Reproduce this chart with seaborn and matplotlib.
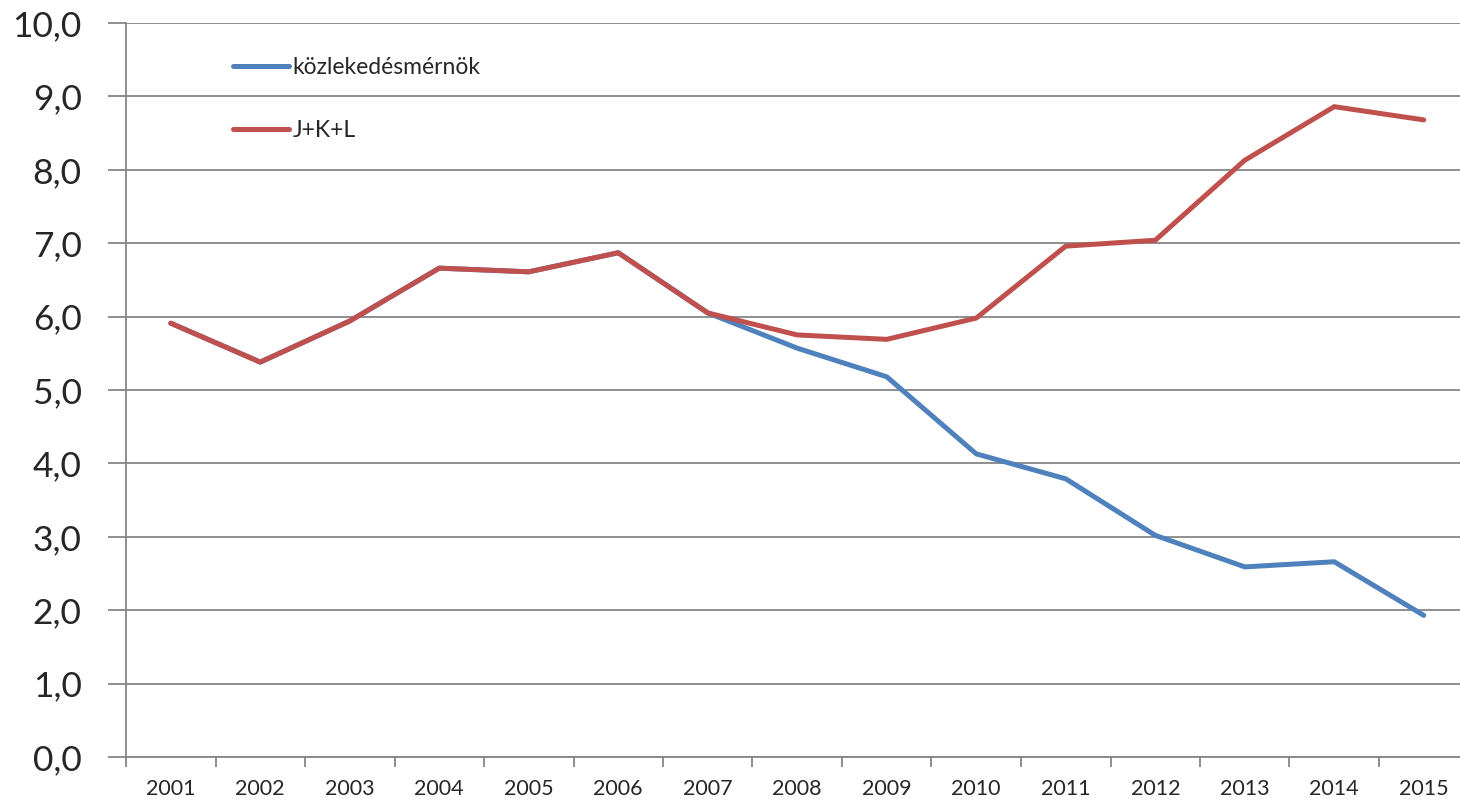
import matplotlib
matplotlib.use("Agg")
import matplotlib.pyplot as plt
import pandas as pd
import seaborn as sns

# data
years = [str(y) for y in range(2001, 2016)]
kozlekedes = [5.91, 5.38, 5.94, 6.66, 6.61, 6.87, 6.05, 5.57, 5.18, 4.13, 3.79, 3.02, 2.59, 2.66, 1.93]
jkl = [5.91, 5.38, 5.94, 6.66, 6.61, 6.87, 6.05, 5.75, 5.69, 5.98, 6.96, 7.04, 8.13, 8.86, 8.68]
series_names = ["közlekedésmérnök", "J+K+L"]
colors = ["#4F81BD", "#C0504D"]

df = pd.DataFrame({
    "year": years * 2,
    "value": kozlekedes + jkl,
    "series": [series_names[0]] * len(years) + [series_names[1]] * len(years),
})

sns.set_style("white")
plt.rcParams["font.family"] = ["Lato", "DejaVu Sans"]

fig = plt.figure(figsize=(14.6, 8.02), dpi=100)
ax = fig.add_axes([126 / 1460, 1 - 757 / 802, 1342.5 / 1460, 734 / 802])

sns.lineplot(data=df, x="year", y="value", hue="series", hue_order=series_names,
             palette=colors, linewidth=3.6, ax=ax, sort=False)

ax.set_xlim(-0.5, 14.5)
ax.set_ylim(0, 10)
ax.set_yticks(range(0, 11))
ax.set_yticklabels([f"{v},0" for v in range(0, 11)], fontsize=25.5)
ax.set_xticks(range(len(years)))
ax.set_xticklabels(years, fontsize=15.5)
ax.set_xticks([i - 0.5 for i in range(len(years) + 1)], minor=True)
ax.tick_params(axis="x", which="major", bottom=False, length=0, pad=16)
ax.tick_params(axis="x", which="minor", bottom=True, length=7, color="#868686",
               width=1.3, direction="out")
ax.tick_params(axis="y", left=True, length=13, color="#868686", width=1.3, pad=19)
ax.yaxis.grid(True, color="#868686", linewidth=1.3)
ax.set_axisbelow(True)
for s in ["top", "right"]:
    ax.spines[s].set_visible(False)
for s in ["left", "bottom"]:
    ax.spines[s].set_color("#868686")
    ax.spines[s].set_linewidth(1.3)
ax.set_xlabel("")
ax.set_ylabel("")

ax.legend(loc="upper left", bbox_to_anchor=(0.0645, 0.982), frameon=False,
          fontsize=16.5, handlelength=2.45, handletextpad=0.15, labelspacing=1.85)

fig.savefig("out.png", dpi=100)
